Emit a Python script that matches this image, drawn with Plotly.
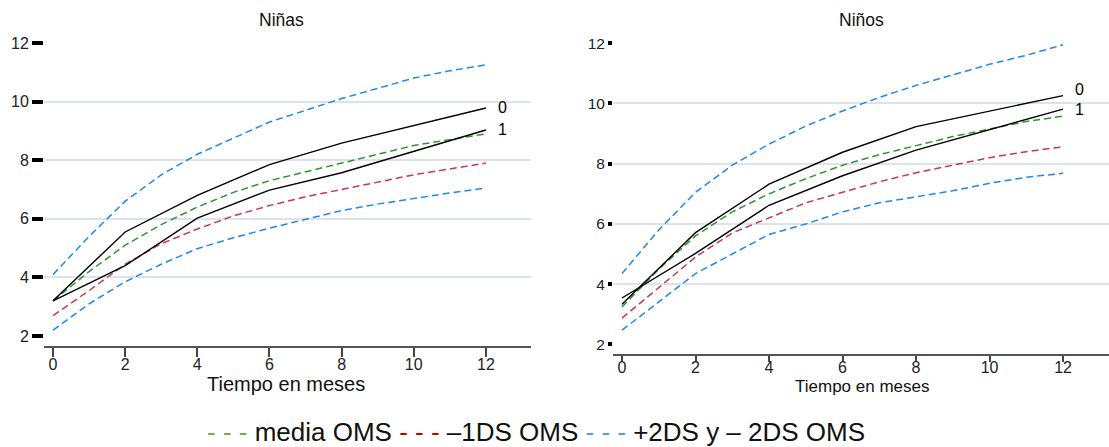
import plotly.graph_objects as go

months = list(range(13))
obs_months = [0, 2, 4, 6, 8, 10, 12]

# Niñas (girls)
g_p2 = [4.1, 5.4, 6.6, 7.5, 8.2, 8.75, 9.3, 9.7, 10.1, 10.45, 10.8, 11.05, 11.25]
g_m2 = [2.2, 3.1, 3.85, 4.45, 4.98, 5.35, 5.68, 5.98, 6.28, 6.5, 6.7, 6.88, 7.05]
g_m1 = [2.7, 3.55, 4.45, 5.15, 5.65, 6.1, 6.45, 6.75, 7.0, 7.25, 7.5, 7.7, 7.9]
g_med = [3.2, 4.2, 5.1, 5.8, 6.4, 6.9, 7.3, 7.6, 7.9, 8.2, 8.5, 8.7, 8.9]
g_grp0 = [3.2, 5.55, 6.8, 7.85, 8.58, 9.18, 9.78]
g_grp1 = [3.2, 4.4, 6.02, 6.98, 7.57, 8.3, 9.03]

# Niños (boys)
b_p2 = [4.35, 5.8, 7.05, 7.95, 8.65, 9.25, 9.75, 10.2, 10.6, 10.95, 11.3, 11.6, 11.95]
b_m2 = [2.47, 3.4, 4.35, 5.0, 5.65, 6.0, 6.4, 6.7, 6.9, 7.1, 7.35, 7.55, 7.68]
b_m1 = [2.87, 3.9, 4.9, 5.7, 6.2, 6.7, 7.05, 7.4, 7.7, 7.95, 8.2, 8.4, 8.56]
b_med = [3.24, 4.5, 5.6, 6.4, 7.0, 7.5, 7.95, 8.3, 8.6, 8.9, 9.15, 9.4, 9.58]
b_grp0 = [3.33, 5.71, 7.32, 8.38, 9.23, 9.75, 10.26]
b_grp1 = [3.54, 5.02, 6.62, 7.6, 8.45, 9.13, 9.81]

y_ticks = [2, 4, 6, 8, 10, 12]
grid_vals = [4, 6, 8, 10]
x_ticks = [0, 2, 4, 6, 8, 10, 12]

BLUE = "#1e88f0"
RED = "#c8375a"
GREEN = "#2e962e"
DASH = "7px,4px"
FONT = "Liberation Sans, Arial, sans-serif"

fig = go.Figure()

def add_panel(xa, ya, p2, m2, m1, med, grp0, grp1, shift0):
    for ys, col in [(p2, BLUE), (m2, BLUE), (m1, RED), (med, GREEN)]:
        fig.add_trace(go.Scatter(x=months, y=ys, mode="lines", xaxis=xa, yaxis=ya,
                                 line=dict(color=col, width=1.5, dash=DASH),
                                 showlegend=False, hoverinfo="skip"))
    for ys in [grp0, grp1]:
        fig.add_trace(go.Scatter(x=obs_months, y=ys, mode="lines", xaxis=xa, yaxis=ya,
                                 line=dict(color="black", width=1.4),
                                 showlegend=False, hoverinfo="skip"))
    for lab, ys, ysh in [("0", grp0, shift0), ("1", grp1, 0)]:
        fig.add_annotation(x=obs_months[-1], y=ys[-1], xref=xa, yref=ya, text=lab,
                           showarrow=False, xanchor="left", xshift=10, yshift=ysh,
                           font=dict(size=16, color="black", family=FONT))

add_panel("x", "y", g_p2, g_m2, g_m1, g_med, g_grp0, g_grp1, 0)
add_panel("x2", "y2", b_p2, b_m2, b_m1, b_med, b_grp0, b_grp1, 6)

H = 447.0
xcommon = dict(tickmode="array", tickvals=x_ticks, showgrid=False, zeroline=False,
               showline=True, linecolor="#555555", linewidth=2, ticks="outside",
               tickcolor="#444444", tickwidth=1.5, automargin=False)
ycommon = dict(tickmode="array", tickvals=y_ticks, showgrid=False, zeroline=False,
               showline=False, ticks="outside", tickcolor="black", tickwidth=3.5,
               automargin=False)

fig.update_layout(
    width=1109, height=447,
    margin=dict(l=0, r=0, t=0, b=0),
    paper_bgcolor="white", plot_bgcolor="white",
    showlegend=False,
    xaxis=dict(xcommon, domain=[44/1109, 531/1109], range=[-0.25, 13.25], ticklen=9,
               ticklabelstandoff=-6,
               anchor="y", tickfont=dict(size=16, color="#222222", family=FONT)),
    yaxis=dict(ycommon, domain=[1-346/H, 1-30/H], range=[1.66, 12.44], ticklen=11,
               anchor="x", tickfont=dict(size=16, color="#222222", family=FONT)),
    xaxis2=dict(xcommon, domain=[613/1109, 1.0], range=[-0.245, 13.25], ticklen=6,
                ticklabelstandoff=-8,
                anchor="y2", tickfont=dict(size=16, color="#222222", family=FONT)),
    yaxis2=dict(ycommon, domain=[1-354/H, 1-30/H], range=[1.68, 12.44], ticklen=4,
                anchor="x2", tickfont=dict(size=15.5, color="#222222", family=FONT)),
    yaxis3=dict(overlaying="y", matches="y", tickmode="array", tickvals=grid_vals,
                showgrid=True, gridcolor="#dde3ec", gridwidth=1.5, showticklabels=False,
                ticks="", zeroline=False, showline=False, anchor="x"),
    yaxis4=dict(overlaying="y2", matches="y2", tickmode="array", tickvals=grid_vals,
                showgrid=True, gridcolor="#dde3ec", gridwidth=1.5, showticklabels=False,
                ticks="", zeroline=False, showline=False, anchor="x2"),
)

fig.add_trace(go.Scatter(x=[None], y=[None], xaxis="x", yaxis="y3", showlegend=False))
fig.add_trace(go.Scatter(x=[None], y=[None], xaxis="x2", yaxis="y4", showlegend=False))
fig.data = fig.data[-2:] + fig.data[:-2]

def ann(text, x, y, size, xanchor="center"):
    fig.add_annotation(text=text, x=x/1109, y=1-y/H, xref="paper", yref="paper",
                       showarrow=False, xanchor=xanchor, yanchor="middle",
                       font=dict(size=size, color="#111111", family=FONT))

ann("Niñas", 281, 20, 17.5)
ann("Niños", 861, 20, 17.5)
ann("Tiempo en meses", 286, 384, 20)
ann("Tiempo en meses", 862, 386, 17)

legend_text = (f'<span style="color:#70ad47">- - -</span> media OMS '
               f'<span style="color:#c00000">- - -</span> \u20131DS OMS '
               f'<span style="color:#5b9bd5">- - -</span> +2DS y \u2013 2DS OMS')
ann(legend_text, 536, 432, 26)

fig.write_html("out.html", config={"displayModeBar": False},
               post_script="document.body.style.margin='0';document.body.style.overflow='hidden';")
